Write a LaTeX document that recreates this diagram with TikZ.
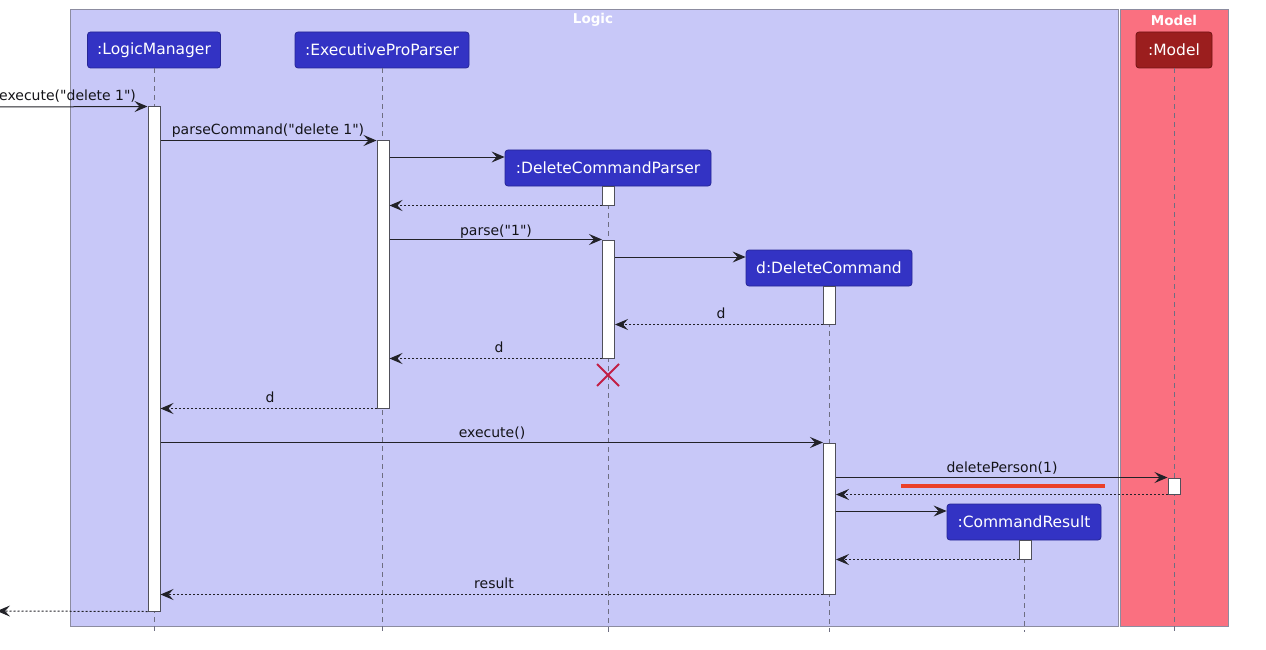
\documentclass[tikz,border=0pt]{standalone}
\usepackage{fontspec}
\usetikzlibrary{arrows.meta}
\newfontfamily\djv{DejaVu Sans}[Ligatures=TeXOff]
\definecolor{logicfill}{RGB}{200,200,248}
\definecolor{modelfill}{RGB}{250,112,128}
\definecolor{grpborder}{RGB}{140,140,160}
\definecolor{partblue}{RGB}{51,51,196}
\definecolor{partblueborder}{RGB}{38,38,150}
\definecolor{modelred}{RGB}{155,30,30}
\definecolor{modelredborder}{RGB}{115,20,20}
\definecolor{lifegray}{RGB}{110,110,130}
\definecolor{arrowcol}{RGB}{34,34,40}
\definecolor{labelcol}{RGB}{20,20,25}
\definecolor{actborder}{RGB}{80,80,90}
\definecolor{redbar}{RGB}{235,64,40}
\definecolor{killcol}{RGB}{194,30,70}
\tikzset{
  grp/.style={draw=grpborder, line width=1pt},
  grptitle/.style={text=white, font=\djv\bfseries\fontsize{13.5}{15}\selectfont, inner sep=0pt},
  part/.style={draw=partblueborder, fill=partblue, rounded corners=3pt, text=white,
    font=\djv\fontsize{15.5}{18}\selectfont, minimum height=36, inner xsep=2pt, line width=0.8pt},
  act/.style={draw=actborder, fill=white, line width=1pt, minimum width=12, inner sep=0pt},
  lifeline/.style={draw=lifegray, dash pattern=on 5pt off 4pt, line width=0.9pt},
  msg/.style={draw=arrowcol, line width=1pt, -{Stealth[length=13pt,width=11pt,inset=5pt]}},
  ret/.style={msg, dash pattern=on 2pt off 2pt},
  lbl/.style={font=\djv\fontsize{14}{16}\selectfont, text=labelcol, anchor=base, inner sep=0pt}
}
\begin{document}
\begin{tikzpicture}[x=1pt,y=-1pt]
\useasboundingbox (0,0) rectangle (1266,650);
\fill[white] (0,0) rectangle (1266,650);
% groups
\draw[grp, fill=logicfill] (70,10) rectangle (1118,626);
\node[grptitle] (logictitle) at (593,20) {Logic};
\draw[grp, fill=modelfill] (1120,10) rectangle (1228,626);
\node[grptitle] (modeltitle) at (1174,20) {Model};
% participants
\node[part, minimum width=133] (lm) at (154,50) {:LogicManager};
\node[part, minimum width=174] (ep) at (382,50) {:ExecutiveProParser};
\node[part, minimum width=206] (dcp) at (608,168) {:DeleteCommandParser};
\node[part, minimum width=166] (dc) at (829,268) {d:DeleteCommand};
\node[part, minimum width=154] (cr) at (1024,522) {:CommandResult};
\node[part, fill=modelred, draw=modelredborder, minimum width=76] (md) at (1174,50) {:Model};
% lifeline ends
\coordinate (lmend) at (154,632);
\coordinate (epend) at (382,632);
\coordinate (dcpend) at (608,632);
\coordinate (dcend) at (829,632);
\coordinate (crend) at (1024,632);
\coordinate (mdend) at (1174,632);
\draw[lifeline] (lm.south) -- (lmend);
\draw[lifeline] (ep.south) -- (epend);
\draw[lifeline] (dcp.south) -- (dcpend);
\draw[lifeline] (dc.south) -- (dcend);
\draw[lifeline] (cr.south) -- (crend);
\draw[lifeline] (md.south) -- (mdend);
% activations
\node[act, minimum height=504] (lmA) at (154,359) {};
\node[act, minimum height=267] (epA) at (383,274.5) {};
\node[act, minimum height=19] (dcpA1) at (608.5,195.5) {};
\node[act, minimum height=118] (dcpA2) at (608.5,299) {};
\node[act, minimum height=38] (dcA1) at (829.5,305) {};
\node[act, minimum height=151] (dcA2) at (829.5,518.5) {};
\node[act, minimum height=16] (mdA) at (1174,486) {};
\node[act, minimum height=19] (crA) at (1025,549.5) {};
% helper coordinates
\coordinate (entry) at (0,107);
\coordinate (exitpt) at (-3,611);
\coordinate (y157) at (0,157);
\coordinate (y257) at (0,257);
\coordinate (y511) at (0,511);
% messages
\draw[msg] (entry) -- (lmA.north west);
\draw[msg] (lmA.east |- epA.north) -- (epA.north west);
\draw[msg] (epA.east |- y157) -- (dcp.west |- y157);
\draw[ret] (dcpA1.south west) -- (epA.east |- dcpA1.south);
\draw[msg] (epA.east |- dcpA2.north) -- (dcpA2.north west);
\draw[msg] (dcpA2.east |- y257) -- (dc.west |- y257);
\draw[ret] (dcA1.south west) -- (dcpA2.east |- dcA1.south);
\draw[ret] (dcpA2.south west) -- (epA.east |- dcpA2.south);
\draw[ret] (epA.south west) -- (lmA.east |- epA.south);
\draw[msg] (lmA.east |- dcA2.north) -- (dcA2.north west);
\draw[msg] (dcA2.east |- mdA.north) -- (mdA.north west);
\draw[ret] (mdA.south west) -- (dcA2.east |- mdA.south);
\draw[msg] (dcA2.east |- y511) -- (cr.west |- y511);
\draw[ret] (crA.south west) -- (dcA2.east |- crA.south);
\draw[ret] (dcA2.south west) -- (lmA.east |- dcA2.south);
\draw[ret] (lmA.south west) -- (exitpt);
% labels
\node[lbl, anchor=base west] (l1) at (-1,101) {execute("delete 1")};
\node[lbl] (l2) at (268,135) {parseCommand("delete 1")};
\node[lbl] (l3) at (496,235) {parse("1")};
\node[lbl] (l4) at (721,318) {d};
\node[lbl] (l5) at (499,352) {d};
\node[lbl] (l6) at (270,402) {d};
\node[lbl] (l7) at (492,437) {execute()};
\node[lbl] (l8) at (1002,472) {deletePerson(1)};
\node[lbl] (l9) at (494,588) {result};
% destruction mark
\draw[killcol, line width=1.8pt] (597,364) -- (619,386) (597,386) -- (619,364);
% red bar
\draw[redbar, line width=4pt] (901,486) -- (1105,486);
\end{tikzpicture}
\end{document}
